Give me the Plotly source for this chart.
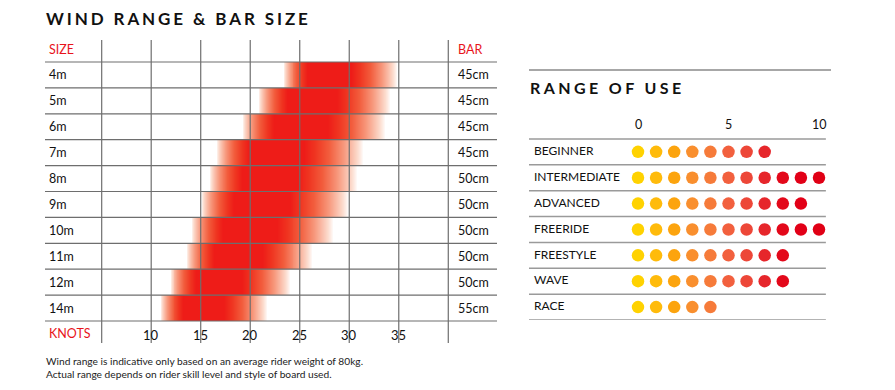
import numpy as np
import plotly.graph_objects as go

# ---------------- data ----------------
SIZES = ["4m", "5m", "6m", "7m", "8m", "9m", "10m", "11m", "12m", "14m"]
BARS = ["45cm", "45cm", "45cm", "45cm", "50cm", "50cm", "50cm", "50cm", "50cm", "55cm"]
WIND_LOW = [23.3, 20.8, 19.2, 16.6, 15.9, 15.1, 14.1, 13.6, 11.9, 10.9]
WIND_HIGH = [34.8, 34.1, 33.6, 31.4, 30.8, 29.9, 28.4, 26.3, 24.0, 21.7]
KNOT_TICKS = [10, 15, 20, 25, 30, 35]
KNOT_GRID = [5, 10, 15, 20, 25, 30, 35, 40]

USES = ["BEGINNER", "INTERMEDIATE", "ADVANCED", "FREERIDE", "FREESTYLE", "WAVE", "RACE"]
USE_MAX = [7, 10, 9, 10, 8, 8, 4]
SCALE_TICKS = [0, 5, 10]
DOT_COLORS = ["#FFD200", "#FFBB0B", "#FCA40E", "#F98F2E", "#F67B3A", "#F2603E",
              "#ED4738", "#E6262B", "#E3081A", "#E20017", "#E00015"]

W, H = 895, 390
FONT = "Lato, 'Noto Sans', sans-serif"
RED = "#E8141B"


def px(x):
    return x / W


def py(y):
    return 1 - y / H


fig = go.Figure()

# ---------------- left: gradient wind range bars (heatmap) ----------------
step = 0.1
xs = np.arange(min(WIND_LOW), max(WIND_HIGH) + step, step)
z = []
for lo, hi in zip(WIND_LOW, WIND_HIGH):
    length = hi - lo
    lf, rf = 0.22 * length, 0.40 * length
    row = []
    for k in xs:
        if k < lo or k > hi:
            row.append(None)
        elif k < lo + lf:
            row.append(((k - lo) / lf) ** 0.8)
        elif k > hi - rf:
            row.append(((hi - k) / rf) ** 0.9)
        else:
            row.append(1.0)
    z.append(row)

fig.add_trace(go.Heatmap(
    x=xs, y=list(range(len(SIZES))), z=z, zmin=0, zmax=1,
    colorscale=[[0, "#FFFFFF"], [0.12, "#FCDCCE"], [0.38, "#F7967A"],
                [0.62, "#F25C3C"], [0.84, "#EF3420"], [1, "#EE1C18"]],
    showscale=False, hoverinfo="skip", xaxis="x", yaxis="y",
))

# ---------------- right: range of use dots ----------------
dx, dy, dc = [], [], []
for i, m in enumerate(USE_MAX):
    for j in range(m + 1):
        dx.append(j)
        dy.append(i)
        dc.append(DOT_COLORS[j])
fig.add_trace(go.Scatter(
    x=dx, y=dy, mode="markers",
    marker=dict(size=12.5, color=dc, line=dict(width=0)),
    hoverinfo="skip", xaxis="x2", yaxis="y2", showlegend=False,
))

axis_off = dict(showgrid=False, zeroline=False, showticklabels=False,
                showline=False, ticks="", fixedrange=True)

fig.update_layout(
    width=W, height=H, autosize=False,
    margin=dict(l=0, r=0, t=0, b=0, pad=0),
    paper_bgcolor="white", plot_bgcolor="white",
    showlegend=False,
    font=dict(family=FONT, color="#111111", size=12),
    xaxis=dict(domain=[px(45), px(497)], range=[-0.725, 44.92], **axis_off),
    yaxis=dict(domain=[py(343), py(40)], range=[10.35, -1.35], **axis_off),
    xaxis2=dict(domain=[px(529), px(831)], range=[-6.022, 10.663], anchor="y2", **axis_off),
    yaxis2=dict(domain=[py(320), py(70)], range=[6.5, -3.164], anchor="x2", **axis_off),
)

shapes = []
# left grid (above bars)
for i in range(len(SIZES) + 1):
    v = i - 0.5
    shapes.append(dict(type="line", xref="x domain", yref="y", x0=0, x1=1, y0=v, y1=v,
                       line=dict(color="#6E6E6E", width=1.2), layer="above"))
for k in KNOT_GRID:
    shapes.append(dict(type="line", xref="x", yref="y domain", x0=k, x1=k, y0=0, y1=1,
                       line=dict(color="#6E6E6E", width=1.2), layer="above"))
# right lines
shapes.append(dict(type="line", xref="x2 domain", yref="y2 domain", x0=0, x1=1, y0=1, y1=1,
                   line=dict(color="#8A8A8A", width=1.5)))
for i in range(len(USES) + 1):
    v = i - 0.5
    shapes.append(dict(type="line", xref="x2 domain", yref="y2", x0=0, x1=0.983, y0=v, y1=v,
                       line=dict(color="#9A9A9A", width=1.5)))
fig.update_layout(shapes=shapes)

ann = []
# titles
ann.append(dict(text='<span style="letter-spacing:2.9px"><b>WIND RANGE &amp; BAR SIZE</b></span>',
                xref="paper", yref="paper", x=px(44), y=py(18), xanchor="left", yanchor="middle",
                showarrow=False, font=dict(size=17, color="#111111", family=FONT)))
ann.append(dict(text='<span style="letter-spacing:3.4px"><b>RANGE OF USE</b></span>',
                xref="paper", yref="paper", x=px(528), y=py(88), xanchor="left", yanchor="middle",
                showarrow=False, font=dict(size=16, color="#111111", family=FONT)))
# left header / footer labels
for txt, x, v in [("SIZE", 47, -1), ("BAR", 456, -1), ("KNOTS", 47, len(SIZES))]:
    ann.append(dict(text=txt, xref="paper", yref="y", x=px(x), y=v, xanchor="left",
                    yanchor="middle", showarrow=False, font=dict(size=12.5, color=RED)))
for i, (s, b) in enumerate(zip(SIZES, BARS)):
    ann.append(dict(text=s, xref="paper", yref="y", x=px(47), y=i, xanchor="left",
                    yanchor="middle", showarrow=False, font=dict(size=12.5)))
    ann.append(dict(text=b, xref="paper", yref="y", x=px(456), y=i, xanchor="left",
                    yanchor="middle", showarrow=False, font=dict(size=12.5)))
for k in KNOT_TICKS:
    ann.append(dict(text=str(k), xref="x", yref="y", x=k, y=len(SIZES) + 0.05, xanchor="center",
                    yanchor="middle", showarrow=False, font=dict(size=13)))
# right labels
for i, u in enumerate(USES):
    ann.append(dict(text=u, xref="paper", yref="y2", x=px(532), y=i - 0.05, xanchor="left",
                    yanchor="middle", showarrow=False, font=dict(size=12)))
for t in SCALE_TICKS:
    ann.append(dict(text=str(t), xref="x2", yref="y2", x=t, y=-1.05, xanchor="center",
                    yanchor="middle", showarrow=False, font=dict(size=12.5)))
# footnote
ann.append(dict(text="Wind range is indicative only based on an average rider weight of 80kg.<br>"
                     "Actual range depends on rider skill level and style of board used.",
                xref="paper", yref="paper", x=px(44), y=py(367), xanchor="left", yanchor="middle",
                align="left", showarrow=False, font=dict(size=10.2, color="#222222")))
fig.update_layout(annotations=ann)

fig.write_html("out.html", config={"displayModeBar": False, "staticPlot": True},
               post_script="document.body.style.margin='0';document.body.style.overflow='hidden';")
